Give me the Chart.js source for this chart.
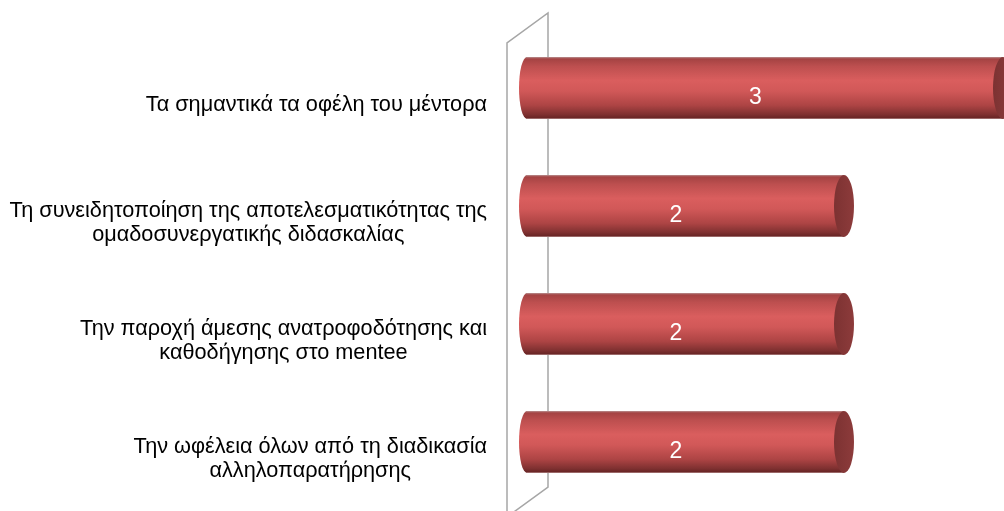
<!DOCTYPE html>
<html>
<head>
<meta charset="utf-8">
<script src="https://cdn.jsdelivr.net/npm/chart.js@4"></script>
<style>
  html, body { margin: 0; padding: 0; background: #fff; overflow: hidden; }
  #wrap { width: 1004px; height: 511px; position: relative; }
</style>
</head>
<body>
<div id="wrap"><canvas id="benefits-chart"></canvas></div>
<script>
const categories = [
  ["Τα σημαντικά τα οφέλη του μέντορα"],
  ["Τη συνειδητοποίηση της αποτελεσματικότητας της", "ομαδοσυνεργατικής διδασκαλίας"],
  ["Την παροχή άμεσης ανατροφοδότησης και", "καθοδήγησης στο mentee"],
  ["Την ωφέλεια όλων από τη διαδικασία", "αλληλοπαρατήρησης"]
]
const counts = [3, 2, 2, 2]
const axisMax = 3

const BAR_SHARE = 0.525

function cylinderGradient(ctx, top, height) {
  const g = ctx.createLinearGradient(0, top, 0, top + height)
  g.addColorStop(0, "#b89090")
  g.addColorStop(0.03, "#a44343")
  g.addColorStop(0.15, "#bd4f4f")
  g.addColorStop(0.38, "#da5e5e")
  g.addColorStop(0.55, "#d15858")
  g.addColorStop(0.78, "#ad4444")
  g.addColorStop(0.93, "#7e3030")
  g.addColorStop(0.98, "#6a2626")
  g.addColorStop(1, "#b89090")
  return g
}

// back wall outline, drawn behind the bars
const wallPlugin = {
  id: "wall",
  beforeDatasetsDraw(chart) {
    const { ctx, chartArea } = chart
    const x0 = chart.scales.x.getPixelForValue(0)
    const l = x0 - 19, r = x0 + 22
    ctx.save()
    ctx.strokeStyle = "#a6a6a6"
    ctx.lineWidth = 1.5
    ctx.beginPath()
    ctx.moveTo(l, chart.height + 10)
    ctx.lineTo(l, chartArea.top + 14)
    ctx.lineTo(r, chartArea.top - 16)
    ctx.lineTo(r, chart.height - 24)
    ctx.lineTo(l, chart.height + 6)
    ctx.stroke()
    ctx.restore()
  }
}

// rounded caps, value labels and the category text
const cylinderPlugin = {
  id: "cylinder",
  afterDatasetsDraw(chart) {
    const { ctx } = chart
    const meta = chart.getDatasetMeta(0)
    meta.data.forEach((bar, i) => {
      const h = bar.height
      const top = bar.y - h / 2
      ctx.save()
      // left end bulges towards the wall
      ctx.fillStyle = cylinderGradient(ctx, top, h)
      ctx.beginPath()
      ctx.ellipse(bar.base + 1, bar.y, 8, h / 2, 0, Math.PI / 2, Math.PI * 1.5)
      ctx.closePath()
      ctx.fill()
      // flat end face
      const face = ctx.createLinearGradient(bar.x - 10, 0, bar.x + 10, 0)
      face.addColorStop(0, "#7c3232")
      face.addColorStop(1, "#8d3b3b")
      ctx.fillStyle = face
      ctx.beginPath()
      ctx.ellipse(bar.x, bar.y, 10, h / 2, 0, 0, Math.PI * 2)
      ctx.fill()
      // value
      ctx.fillStyle = "#ffffff"
      ctx.font = "23px 'Liberation Sans', Arial, sans-serif"
      ctx.textAlign = "center"
      ctx.textBaseline = "middle"
      ctx.fillText(String(counts[i]), (bar.base + bar.x) / 2 - 9, bar.y + 10)
      ctx.restore()
    })

    // category labels: block right-aligned, lines centred inside it
    const yScale = chart.scales.y
    const right = 487
    const lineH = 24
    ctx.save()
    ctx.font = "21.7px 'Liberation Sans', Arial, sans-serif"
    ctx.fillStyle = "#000000"
    ctx.textAlign = "center"
    ctx.textBaseline = "middle"
    categories.forEach((lines, i) => {
      const w = Math.max(...lines.map((t) => ctx.measureText(t).width))
      const cx = right - w / 2
      const cy = yScale.getPixelForValue(i) + 17
      const start = cy - ((lines.length - 1) * lineH) / 2
      lines.forEach((t, k) => ctx.fillText(t, cx, start + k * lineH))
    })
    ctx.restore()
  }
}

const chartEl = document.getElementById("benefits-chart")
new Chart(chartEl, {
  type: "bar",
  data: {
    labels: categories,
    datasets: [
      {
        data: counts,
        backgroundColor: (c) => {
          const chart = c.chart
          const y = chart.scales.y
          if (!y || y.top === undefined) return "#c85050"
          const step = y.getPixelForValue(1) - y.getPixelForValue(0)
          const h = step * BAR_SHARE
          const top = y.getPixelForValue(c.dataIndex) - h / 2
          return cylinderGradient(chart.ctx, top, h)
        },
        borderWidth: 0,
        categoryPercentage: 1,
        barPercentage: BAR_SHARE,
      },
    ],
  },
  options: {
    indexAxis: "y",
    responsive: true,
    maintainAspectRatio: false,
    animation: false,
    layout: {
      padding: { left: 526, right: 1, top: 29, bottom: 10 },
    },
    plugins: {
      legend: { display: false },
      tooltip: { enabled: false },
    },
    scales: {
      x: { display: false, min: 0, max: axisMax },
      y: { display: false },
    },
  },
  plugins: [wallPlugin, cylinderPlugin],
})
</script>
</body>
</html>
